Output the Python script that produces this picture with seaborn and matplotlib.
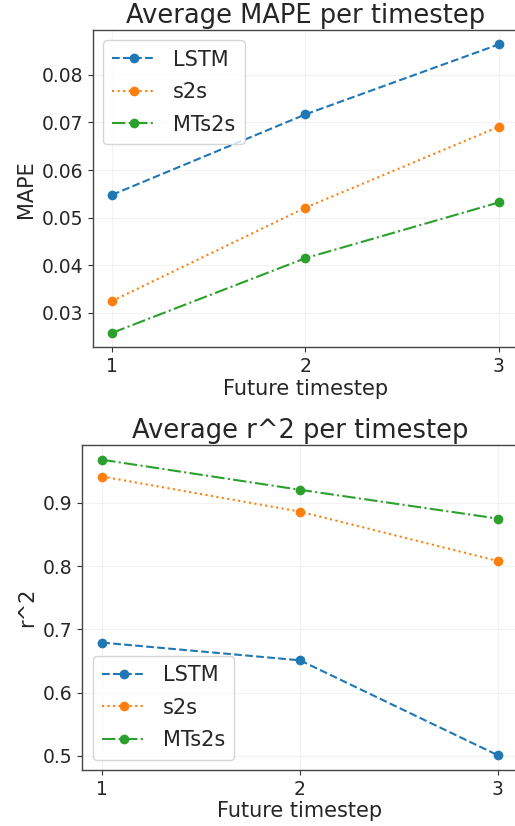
import matplotlib
matplotlib.use("Agg")
import pandas as pd
import seaborn as sns
import matplotlib.pyplot as plt

# --- data ---
timesteps = [1, 2, 3]
models = ["LSTM", "s2s", "MTs2s"]
mape_lstm = [0.0548, 0.0717, 0.0864]
mape_s2s = [0.0325, 0.0521, 0.0691]
mape_mts2s = [0.0258, 0.0415, 0.0532]
r2_lstm = [0.679, 0.651, 0.501]
r2_s2s = [0.9415, 0.886, 0.808]
r2_mts2s = [0.968, 0.9205, 0.875]

line_styles = {"LSTM": "--", "s2s": ":", "MTs2s": "-."}
colors = {"LSTM": "#1f77b4", "s2s": "#ff7f0e", "MTs2s": "#2ca02c"}

mape = pd.DataFrame({"step": timesteps * 3,
                     "model": sum([[m] * 3 for m in models], []),
                     "value": mape_lstm + mape_s2s + mape_mts2s})
r2 = pd.DataFrame({"step": timesteps * 3,
                   "model": sum([[m] * 3 for m in models], []),
                   "value": r2_lstm + r2_s2s + r2_mts2s})

sns.set_style("ticks")
plt.rcParams["font.family"] = ["DejaVu Sans"]

fig = plt.figure(figsize=(5.15, 8.26), dpi=100)
ax1 = fig.add_axes([0.18, 0.5795, 0.826, 0.3842])
ax2 = fig.add_axes([0.16, 0.0678, 0.845, 0.3935])


def draw(ax, df, title, ylabel, legend_loc):
    for m in models:
        sub = df[df["model"] == m]
        sns.lineplot(data=sub, x="step", y="value", ax=ax, label=m,
                     color=colors[m], linestyle=line_styles[m],
                     marker="o", markersize=7, markeredgewidth=0, linewidth=1.5)
    ax.set_title(title, fontsize=18.5, pad=5)
    ax.set_xlabel("Future timestep", fontsize=15, labelpad=2)
    ax.set_ylabel(ylabel, fontsize=15, labelpad=4)
    ax.set_xticks(timesteps)
    ax.tick_params(labelsize=13.5, color="#333333")
    ax.grid(True, color="#ebebeb", linewidth=0.8, alpha=0.6)
    for s in ax.spines.values():
        s.set_color("#444444")
        s.set_linewidth(1.0)
    ax.legend(loc=legend_loc, fontsize=15, handlelength=2.05, borderpad=0.45,
              labelspacing=0.6, handletextpad=0.85, borderaxespad=0.5)


draw(ax1, mape, "Average MAPE per timestep", "MAPE", "upper left")
draw(ax2, r2, "Average r^2 per timestep", "r^2", "lower left")
ax1.set_yticks([0.03, 0.04, 0.05, 0.06, 0.07, 0.08])
ax2.set_yticks([0.5, 0.6, 0.7, 0.8, 0.9])

fig.savefig("out.png", dpi=100)
